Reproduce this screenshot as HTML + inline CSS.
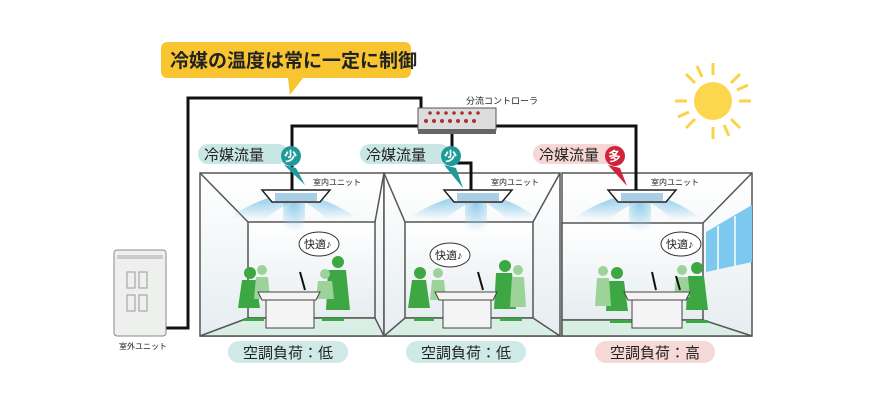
<!DOCTYPE html>
<html><head><meta charset="utf-8"><style>
body{margin:0;background:#fff;}
svg text{font-family:"Liberation Sans","Noto Sans CJK JP",sans-serif;}
</style></head><body>
<svg width="874" height="402" viewBox="0 0 874 402" xmlns="http://www.w3.org/2000/svg">
<defs>
<linearGradient id="wall" x1="0" y1="0" x2="0" y2="1"><stop offset="0" stop-color="#fff"/><stop offset="1" stop-color="#e6edf0"/></linearGradient>
<radialGradient id="air" cx="0.5" cy="0" r="0.9"><stop offset="0" stop-color="#8fcbec"/><stop offset="1" stop-color="#8fcbec" stop-opacity="0"/></radialGradient>
</defs>
<g stroke="#f9d44a" stroke-width="3">
<line x1="713" y1="63" x2="713" y2="75"/><line x1="713" y1="127" x2="713" y2="139"/>
<line x1="675" y1="101" x2="687" y2="101"/><line x1="739" y1="101" x2="751" y2="101"/>
<line x1="686" y1="74" x2="695" y2="83"/><line x1="731" y1="119" x2="740" y2="128"/>
<line x1="740" y1="74" x2="731" y2="83"/><line x1="686" y1="128" x2="695" y2="119"/>
<line x1="697" y1="66" x2="702" y2="77"/><line x1="724" y1="125" x2="729" y2="136"/>
<line x1="678" y1="117" x2="689" y2="112"/><line x1="737" y1="90" x2="748" y2="85"/>
</g>
<circle cx="713" cy="101" r="19" fill="#fcd74e"/>
<g stroke="#555" stroke-width="1.5">
<rect x="200" y="173" width="184" height="163" fill="url(#wall)"/>
<rect x="248" y="222" width="127" height="96" fill="url(#wall)"/>
<polygon points="248,318 375,318 384,336 200,336" fill="#d9eee4"/>
<line x1="200" y1="173" x2="248" y2="222"/><line x1="384" y1="173" x2="375" y2="222"/>
<rect x="384" y="173" width="176" height="163" fill="url(#wall)"/>
<rect x="405" y="222" width="128" height="96" fill="url(#wall)"/>
<polygon points="405,318 533,318 560,336 384,336" fill="#d9eee4"/>
<line x1="384" y1="173" x2="405" y2="222"/><line x1="560" y1="173" x2="533" y2="222"/>
<rect x="562" y="173" width="190" height="163" fill="url(#wall)"/>
<rect x="562" y="223" width="141" height="97" fill="url(#wall)"/>
<polygon points="562,320 703,320 752,336 562,336" fill="#d9eee4"/>
<line x1="752" y1="173" x2="703" y2="223"/>
</g>
<polygon points="706,232 752,205 752,262 706,272" fill="#7cc8ee"/>
<g stroke="#fff" stroke-width="1.5"><line x1="718" y1="226" x2="718" y2="270"/><line x1="735" y1="216" x2="735" y2="266"/></g>
<g fill="url(#air)">
<path d="M268,198 Q240,208 225,222 L262,222 Q275,210 290,203Z"/>
<path d="M283,203 L283,235 L305,235 L305,203Z"/>
<path d="M318,198 Q345,208 362,222 L330,222 Q318,210 306,203Z"/>
<path d="M450,198 Q420,208 405,222 L442,222 Q455,210 470,203Z"/>
<path d="M465,203 L465,235 L487,235 L487,203Z"/>
<path d="M500,198 Q527,208 540,222 L510,222 Q498,210 486,203Z"/>
<path d="M614,198 Q585,208 570,222 L606,222 Q620,210 634,203Z"/>
<path d="M629,203 L629,235 L651,235 L651,203Z"/>
<path d="M664,198 Q690,208 705,222 L675,222 Q663,210 650,203Z"/>
</g>
<g fill="#fff" stroke="#222" stroke-width="1.5">
<polygon points="262,190 330,190 320,202 272,202"/>
<polygon points="444,190 512,190 502,202 454,202"/>
<polygon points="608,190 676,190 666,202 618,202"/>
</g>
<g fill="#a8cfe6"><rect x="275" y="193" width="42" height="8"/><rect x="457" y="193" width="42" height="8"/><rect x="621" y="193" width="42" height="8"/></g>
<g font-size="8" fill="#222"><text x="313" y="185">室内ユニット</text><text x="491" y="185">室内ユニット</text><text x="651" y="185">室内ユニット</text></g>
<g fill="none" stroke="#111" stroke-width="3">
<polyline points="165,328 188,328 188,98 421,98 421,110"/>
<polyline points="418,126 292,126 292,190"/>
<polyline points="452,133 452,163 471,163 471,190"/>
<polyline points="496,126 636,126 636,190"/>
</g>
<rect x="418" y="108" width="78" height="22" fill="#ddd" stroke="#555"/>
<rect x="418" y="129" width="78" height="5" fill="#666"/>
<g fill="#a33"><circle cx="430" cy="113" r="1.8"/><circle cx="438" cy="113" r="1.8"/><circle cx="446" cy="113" r="1.8"/><circle cx="454" cy="113" r="1.8"/><circle cx="462" cy="113" r="1.8"/><circle cx="470" cy="113" r="1.8"/><circle cx="478" cy="113" r="1.8"/>
<circle cx="426" cy="121" r="2"/><circle cx="434" cy="121" r="2"/><circle cx="442" cy="121" r="2"/><circle cx="450" cy="121" r="2"/><circle cx="458" cy="121" r="2"/><circle cx="466" cy="121" r="2"/><circle cx="474" cy="121" r="2"/></g>
<text x="466" y="104" font-size="9" fill="#222">分流コントローラ</text>
<path d="M168,42 H404 Q411,42 411,49 V71 Q411,78 404,78 H303 L290,95 L288,78 H168 Q161,78 161,71 V49 Q161,42 168,42Z" fill="#f8c531"/>
<text x="170" y="67" font-size="19" font-weight="bold" fill="#222">冷媒の温度は常に一定に制御</text>
<rect x="198" y="144" width="90" height="20" rx="10" fill="#c8e6e3"/>
<text x="204" y="160" font-size="15" fill="#222">冷媒流量</text>
<path d="M284,165 L296,168 L305,185Z" fill="#1f9a9a"/>
<circle cx="291" cy="156" r="10" fill="#1f9a9a"/><text x="284" y="161" font-size="13" font-weight="bold" fill="#fff">少</text>
<rect x="360" y="144" width="90" height="20" rx="10" fill="#c8e6e3"/>
<text x="366" y="160" font-size="15" fill="#222">冷媒流量</text>
<path d="M444,165 L456,168 L463,188Z" fill="#1f9a9a"/>
<circle cx="451" cy="156" r="10" fill="#1f9a9a"/><text x="444" y="161" font-size="13" font-weight="bold" fill="#fff">少</text>
<rect x="533" y="144" width="90" height="20" rx="10" fill="#f6d7d5"/>
<text x="539" y="160" font-size="15" fill="#222">冷媒流量</text>
<path d="M608,165 L620,168 L627,186Z" fill="#d0243a"/>
<circle cx="615" cy="156" r="10" fill="#d0243a"/><text x="608" y="161" font-size="13" font-weight="bold" fill="#fff">多</text>
<rect x="114" y="250" width="52" height="86" rx="3" fill="#eef0ee" stroke="#888"/>
<rect x="117" y="255" width="46" height="4" fill="#ccc"/>
<g fill="none" stroke="#999"><rect x="127" y="272" width="8" height="16"/><rect x="139" y="272" width="8" height="16"/><rect x="127" y="295" width="8" height="16"/><rect x="139" y="295" width="8" height="16"/></g>
<text x="119" y="349" font-size="8" fill="#222">室外ユニット</text>
<g fill="#3da843">
<circle cx="250" cy="273" r="6"/><path d="M242,280 h14 l4,28 h-22z"/>
<circle cx="338" cy="262" r="6"/><path d="M328,270 h18 l4,40 h-24z"/>
<circle cx="420" cy="273" r="6"/><path d="M412,280 h14 l4,28 h-22z"/>
<circle cx="505" cy="266" r="6"/><path d="M496,273 h16 l4,36 h-22z"/>
<circle cx="617" cy="273" r="6"/><path d="M608,281 h16 l4,30 h-22z"/>
<circle cx="697" cy="268" r="6"/><path d="M688,276 h16 l4,34 h-22z"/>
</g>
<g fill="#9dd39a">
<circle cx="262" cy="270" r="5"/><path d="M256,277 h12 l2,22 h-16z"/>
<circle cx="325" cy="274" r="5"/><path d="M318,281 h14 l2,18 h-18z"/>
<circle cx="438" cy="273" r="5"/><path d="M432,280 h12 l2,20 h-16z"/>
<circle cx="518" cy="270" r="5"/><path d="M512,277 h12 l2,30 h-16z"/>
<circle cx="603" cy="271" r="5"/><path d="M597,278 h12 l2,28 h-16z"/>
<circle cx="682" cy="270" r="5"/><path d="M676,277 h12 l2,20 h-16z"/>
</g>
<g fill="#3da843"><rect x="244" y="318" width="20" height="3"/><rect x="322" y="318" width="22" height="3"/><rect x="414" y="318" width="20" height="3"/><rect x="500" y="318" width="22" height="3"/><rect x="610" y="320" width="22" height="3"/><rect x="686" y="320" width="22" height="3"/></g>
<g fill="#f4f4f4" stroke="#444">
<path d="M258,292 H320 L316,300 H262Z"/><rect x="266" y="300" width="48" height="28"/>
<path d="M435,292 H497 L493,300 H439Z"/><rect x="443" y="300" width="48" height="28"/>
<path d="M624,292 H690 L686,300 H628Z"/><rect x="632" y="300" width="50" height="28"/>
</g>
<g stroke="#111" stroke-width="2"><line x1="300" y1="272" x2="305" y2="290"/><line x1="478" y1="272" x2="483" y2="290"/><line x1="652" y1="272" x2="656" y2="290"/><line x1="676" y1="276" x2="680" y2="290"/></g>
<g fill="#fff" stroke="#333">
<ellipse cx="319" cy="244" rx="20" ry="12"/><ellipse cx="450" cy="255" rx="20" ry="12"/><ellipse cx="681" cy="244" rx="20" ry="12"/>
</g>
<g font-size="11" fill="#222"><text x="304" y="248">快適♪</text><text x="435" y="259">快適♪</text><text x="666" y="248">快適♪</text></g>
<rect x="228" y="341" width="120" height="22" rx="11" fill="#cfe9e6"/>
<text x="288" y="358" font-size="15" fill="#222" text-anchor="middle">空調負荷：低</text>
<rect x="406" y="341" width="120" height="22" rx="11" fill="#cfe9e6"/>
<text x="466" y="358" font-size="15" fill="#222" text-anchor="middle">空調負荷：低</text>
<rect x="595" y="341" width="120" height="22" rx="11" fill="#f6d8d6"/>
<text x="655" y="358" font-size="15" fill="#222" text-anchor="middle">空調負荷：高</text>
</svg>
</body></html>
